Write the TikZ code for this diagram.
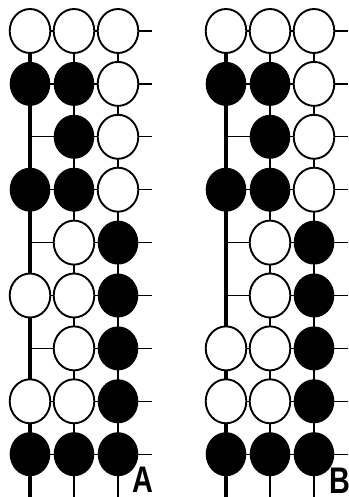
\documentclass[tikz,border=0pt]{standalone}
\usepackage{fontspec}
\setmainfont{Liberation Sans}
\usepackage{tikz}

\begin{document}
\begin{tikzpicture}[
  x=1pt,y=-1pt,
  gridline/.style={line width=1.4pt},
  edgeline/.style={line width=3.2pt},
  wstone/.style={draw,line width=1.9pt,fill=white},
  bstone/.style={fill=black},
  nostone/.style={},
  boardlabel/.style={font=\fontsize{37}{37}\selectfont\bfseries,inner sep=0pt,xscale=0.78}
]
\useasboundingbox (0,0) rectangle (348,497);
% board A
\foreach \r in {0,...,8}
  \draw[gridline] (30,{31+52.9*\r}) -- (152,{31+52.9*\r});
\foreach \c in {1,2}
  \draw[gridline] ({30+44*\c},31) -- ({30+44*\c},497);
\draw[edgeline] (30,31) -- (30,497);
\foreach \s [count=\i from 0] in {wstone,wstone,wstone, bstone,bstone,wstone, nostone,bstone,wstone,
    bstone,bstone,wstone, nostone,wstone,bstone, wstone,wstone,bstone, nostone,wstone,bstone,
    wstone,wstone,bstone, bstone,bstone,bstone} {
  \pgfmathsetmacro\sx{30+44*mod(\i,3)}
  \pgfmathsetmacro\sy{31+52.9*div(\i,3)}
  \path[\s] (\sx,\sy) ellipse [x radius=20.3pt,y radius=22pt];
}
\node[boardlabel] (labelA) at (142.5,479.5) {A};
% board B
\foreach \r in {0,...,8}
  \draw[gridline] (226,{31+52.9*\r}) -- (348,{31+52.9*\r});
\foreach \c in {1,2}
  \draw[gridline] ({226+44*\c},31) -- ({226+44*\c},497);
\draw[edgeline] (226,31) -- (226,497);
\foreach \s [count=\i from 0] in {wstone,wstone,wstone, bstone,bstone,wstone, nostone,bstone,wstone,
    bstone,bstone,wstone, nostone,wstone,bstone, nostone,wstone,bstone, wstone,wstone,bstone,
    wstone,wstone,bstone, bstone,bstone,bstone} {
  \pgfmathsetmacro\sx{226+44*mod(\i,3)}
  \pgfmathsetmacro\sy{31+52.9*div(\i,3)}
  \path[\s] (\sx,\sy) ellipse [x radius=20.3pt,y radius=22pt];
}
\node[boardlabel] (labelB) at (339.5,480.5) {B};
\end{tikzpicture}
\end{document}
